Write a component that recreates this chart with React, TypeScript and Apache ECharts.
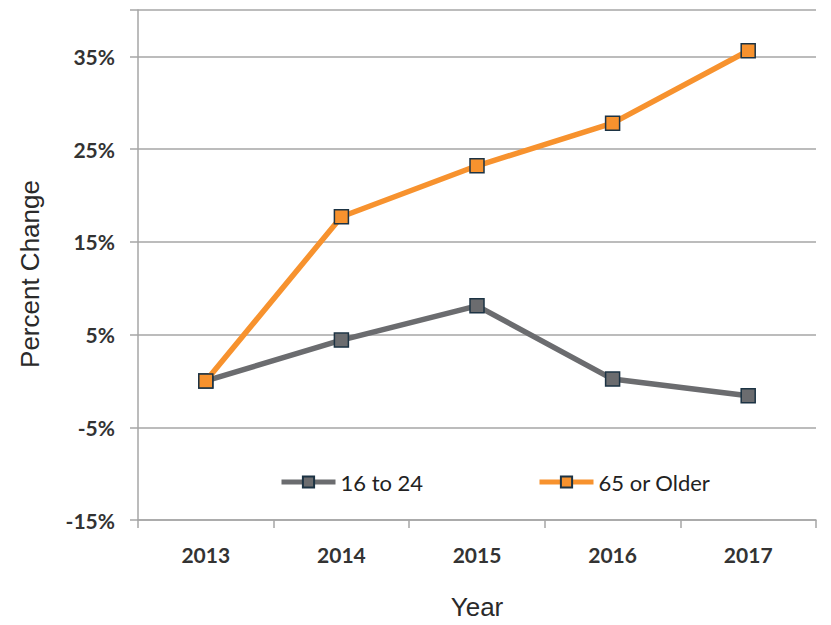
import React, { useEffect, useRef } from "react";
import * as echarts from "echarts";

const years = ["2013", "2014", "2015", "2016", "2017"];
const youngValues = [0, 4.4, 8.1, 0.2, -1.6];
const olderValues = [0, 17.7, 23.2, 27.8, 35.6];
const seriesNames = ["16 to 24", "65 or Older"];

const labelFont = "Lato, 'Open Sans', sans-serif";
const titleFont = "'Liberation Sans', Arial, sans-serif";

export default function App() {
  const ref = useRef<HTMLDivElement>(null);
  useEffect(() => {
    if (!ref.current) return;
    const chart = echarts.init(ref.current, undefined, { renderer: "svg" });
    const legendText = { fontFamily: labelFont, fontSize: 22, color: "#222" };
    const legendCommon = {
      top: 471,
      padding: 0,
      itemWidth: 54,
      itemHeight: 14,
      itemGap: 0,
      textStyle: legendText,
      lineStyle: { width: 5 },
    };
    chart.setOption({
      animation: false,
      backgroundColor: "#fff",
      grid: { left: 138, right: 15, top: 10, bottom: 102, containLabel: false },
      legend: [
        { ...legendCommon, data: [seriesNames[0]], left: 279 },
        { ...legendCommon, data: [seriesNames[1]], left: 537 },
      ],
      xAxis: {
        type: "category",
        data: years,
        boundaryGap: true,
        name: "Year",
        nameLocation: "middle",
        nameGap: 74,
        nameTextStyle: { fontFamily: titleFont, fontSize: 26, color: "#2a2a2a" },
        axisLine: { show: true, onZero: false, lineStyle: { color: "#a6a6a6", width: 1.5 } },
        axisTick: { show: true, length: 8, lineStyle: { color: "#a6a6a6", width: 1.5 } },
        axisLabel: { margin: 24, fontFamily: labelFont, fontSize: 21, fontWeight: "bold", color: "#333" },
        splitLine: { show: false },
      },
      yAxis: {
        type: "value",
        min: -15,
        max: 40,
        interval: 10,
        name: "Percent Change",
        nameLocation: "middle",
        nameRotate: 90,
        nameGap: 95,
        nameTextStyle: { fontFamily: titleFont, fontSize: 26, color: "#2a2a2a", padding: [0, 18, 0, 0] },
        axisLine: { show: true, lineStyle: { color: "#a6a6a6", width: 1.5 } },
        axisTick: { show: true, length: 8, lineStyle: { color: "#a6a6a6", width: 1.5 } },
        axisLabel: {
          margin: 23,
          fontFamily: labelFont,
          fontSize: 21,
          fontWeight: "bold",
          color: "#333",
          formatter: (v: number) => (v === 40 ? "" : v + "%"),
        },
        splitLine: { show: true, lineStyle: { color: "#a6a6a6", width: 1.5 } },
      },
      series: [
        {
          name: seriesNames[0],
          type: "line",
          data: youngValues,
          symbol: "rect",
          symbolSize: 14,
          lineStyle: { color: "#6b6c6f", width: 5.5 },
          itemStyle: { color: "#6b6c6f", borderColor: "#1c3344", borderWidth: 1.5 },
          z: 2,
        },
        {
          name: seriesNames[1],
          type: "line",
          data: olderValues,
          symbol: "rect",
          symbolSize: 14,
          lineStyle: { color: "#f7922e", width: 5.5 },
          itemStyle: { color: "#f7922e", borderColor: "#1c3344", borderWidth: 1.5 },
          z: 3,
        },
      ],
    });
    return () => chart.dispose();
  }, []);
  return <div ref={ref} style={{ width: 831, height: 625, position: "absolute", left: 0, top: 0 }} />;
}
